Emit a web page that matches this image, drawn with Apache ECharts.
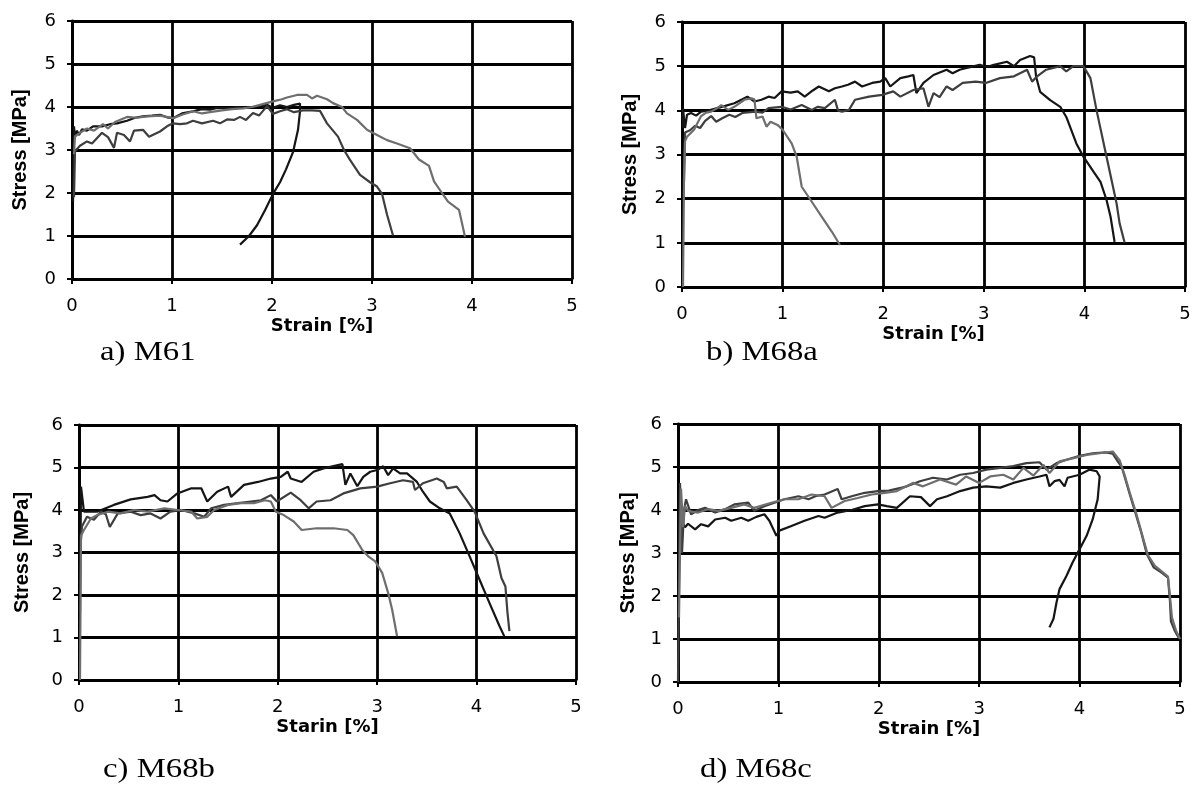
<!DOCTYPE html>
<html>
<head>
<meta charset="utf-8">
<title>Stress-strain curves</title>
<script src="https://cdn.jsdelivr.net/npm/echarts@6/dist/echarts.min.js"></script>
<style>
  html, body { margin: 0; padding: 0; background: #fff; }
  #main { width: 1196px; height: 792px; }
</style>
</head>
<body>
<div id="main"></div>
<script>
// tick labels
var strainTicks = [0, 1, 2, 3, 4, 5];
var stressTicks = [0, 1, 2, 3, 4, 5, 6];

// a) M61
var m61Black = [[0.01,1.8],[0.02,3.55],[0.03,3.3],[0.05,3.45],[0.07,3.35],[0.1,3.48],[0.15,3.45],[0.21,3.55],[0.3,3.55],[0.38,3.6],[0.45,3.62],[0.55,3.68],[0.63,3.75],[0.71,3.78],[0.8,3.8],[0.88,3.82],[0.95,3.76],[1.01,3.74],[1.1,3.85],[1.21,3.9],[1.3,3.95],[1.38,3.94],[1.45,3.98],[1.55,3.97],[1.65,4.0],[1.75,3.98],[1.88,4.02],[1.95,4.05],[2.01,3.98],[2.08,4.04],[2.15,4.0],[2.22,4.05],[2.28,4.08],[2.28,3.9],[2.26,3.47],[2.21,2.95],[2.14,2.55],[2.08,2.25],[2.01,1.98],[1.93,1.6],[1.85,1.25],[1.77,1.0],[1.68,0.8]];
var m61Dark = [[0.02,1.9],[0.03,2.97],[0.08,3.1],[0.15,3.2],[0.2,3.15],[0.3,3.4],[0.36,3.3],[0.42,3.05],[0.45,3.4],[0.52,3.35],[0.58,3.2],[0.62,3.45],[0.71,3.47],[0.77,3.31],[0.88,3.43],[0.95,3.55],[1.01,3.62],[1.08,3.6],[1.15,3.62],[1.21,3.68],[1.3,3.62],[1.41,3.68],[1.48,3.62],[1.55,3.71],[1.62,3.7],[1.68,3.77],[1.74,3.7],[1.81,3.86],[1.87,3.8],[1.95,4.02],[2.01,3.84],[2.08,3.9],[2.15,3.95],[2.22,3.88],[2.31,3.92],[2.4,3.92],[2.48,3.91],[2.55,3.62],[2.66,3.31],[2.72,3.0],[2.78,2.77],[2.88,2.42],[2.98,2.25],[3.05,2.15],[3.1,1.98],[3.15,1.5],[3.21,1.01]];
var m61Light = [[0.02,2.9],[0.03,3.32],[0.08,3.4],[0.15,3.5],[0.22,3.45],[0.31,3.6],[0.36,3.5],[0.43,3.65],[0.55,3.77],[0.65,3.75],[0.75,3.78],[0.88,3.8],[1.01,3.74],[1.1,3.82],[1.21,3.9],[1.3,3.85],[1.38,3.88],[1.5,3.92],[1.6,3.95],[1.71,3.97],[1.8,4.0],[1.88,4.05],[2.01,4.13],[2.1,4.18],[2.15,4.22],[2.25,4.28],[2.35,4.28],[2.4,4.2],[2.45,4.26],[2.5,4.22],[2.55,4.18],[2.61,4.09],[2.7,4.0],[2.75,3.85],[2.85,3.7],[2.95,3.47],[3.05,3.35],[3.15,3.23],[3.25,3.15],[3.38,3.04],[3.47,2.78],[3.57,2.63],[3.62,2.27],[3.7,2.0],[3.76,1.8],[3.87,1.61],[3.93,0.98]];

// b) M68a
var m68aBlack = [[0.01,3.6],[0.01,4.05],[0.03,3.6],[0.05,3.9],[0.09,3.94],[0.14,3.88],[0.19,3.97],[0.27,4.0],[0.35,4.05],[0.43,4.1],[0.52,4.16],[0.6,4.25],[0.65,4.31],[0.72,4.2],[0.79,4.24],[0.86,4.31],[0.92,4.28],[0.99,4.43],[1.08,4.4],[1.15,4.43],[1.22,4.31],[1.3,4.45],[1.36,4.54],[1.46,4.43],[1.52,4.5],[1.59,4.54],[1.65,4.58],[1.72,4.65],[1.79,4.54],[1.89,4.62],[1.97,4.65],[2.02,4.73],[2.07,4.54],[2.17,4.73],[2.25,4.77],[2.3,4.8],[2.33,4.39],[2.4,4.62],[2.5,4.8],[2.63,4.92],[2.69,4.84],[2.76,4.92],[2.83,4.96],[2.96,5.03],[3.03,4.98],[3.1,5.03],[3.23,5.1],[3.3,5.0],[3.36,5.14],[3.46,5.23],[3.5,5.2],[3.52,4.76],[3.56,4.42],[3.66,4.23],[3.76,4.08],[3.82,3.85],[3.92,3.25],[3.99,2.95],[4.09,2.61],[4.16,2.38],[4.22,1.97],[4.26,1.59],[4.3,1.02]];
var m68aDark = [[0.02,2.4],[0.03,3.5],[0.08,3.55],[0.13,3.65],[0.18,3.6],[0.23,3.76],[0.29,3.87],[0.34,3.74],[0.4,3.82],[0.47,3.9],[0.53,3.85],[0.6,3.94],[0.73,3.97],[0.8,3.95],[0.86,4.05],[0.99,4.08],[1.08,4.02],[1.19,4.12],[1.29,4.01],[1.35,4.08],[1.42,4.05],[1.52,4.24],[1.55,4.0],[1.59,3.97],[1.66,4.01],[1.72,4.24],[1.86,4.31],[1.99,4.35],[2.1,4.43],[2.17,4.31],[2.3,4.46],[2.4,4.5],[2.45,4.08],[2.5,4.39],[2.56,4.3],[2.63,4.54],[2.69,4.46],[2.79,4.62],[2.92,4.65],[3.02,4.62],[3.16,4.73],[3.3,4.77],[3.43,4.92],[3.48,4.65],[3.53,4.77],[3.62,4.92],[3.76,5.0],[3.82,4.88],[3.89,5.0],[3.99,5.0],[4.06,4.73],[4.12,4.01],[4.22,2.95],[4.32,1.89],[4.35,1.44],[4.4,1.0]];
var m68aLight = [[0.01,0],[0.02,2.5],[0.03,3.3],[0.05,3.4],[0.12,3.56],[0.19,3.87],[0.24,3.95],[0.29,3.97],[0.35,4.05],[0.39,4.12],[0.46,4.01],[0.52,4.08],[0.62,4.24],[0.69,4.27],[0.72,4.25],[0.74,3.82],[0.8,3.86],[0.84,3.63],[0.88,3.74],[0.95,3.67],[1.0,3.56],[1.09,3.25],[1.14,2.95],[1.19,2.27],[1.29,1.93],[1.39,1.59],[1.49,1.25],[1.57,0.95]];

// c) M68b
var m68bBlack = [[0.01,1.6],[0.02,4.55],[0.05,3.96],[0.18,3.96],[0.35,4.12],[0.52,4.25],[0.69,4.31],[0.76,4.35],[0.82,4.23],[0.89,4.2],[0.99,4.39],[1.13,4.51],[1.23,4.51],[1.29,4.2],[1.39,4.43],[1.5,4.55],[1.53,4.31],[1.66,4.59],[1.8,4.66],[1.93,4.74],[2.03,4.78],[2.1,4.9],[2.13,4.74],[2.24,4.66],[2.36,4.9],[2.46,4.98],[2.65,5.08],[2.68,4.59],[2.73,4.86],[2.8,4.56],[2.86,4.78],[2.93,4.9],[3.0,4.94],[3.06,5.03],[3.11,4.82],[3.16,4.98],[3.23,4.86],[3.3,4.86],[3.4,4.66],[3.46,4.43],[3.53,4.2],[3.63,4.04],[3.73,3.92],[3.83,3.45],[3.93,2.91],[4.03,2.36],[4.13,1.81],[4.23,1.27],[4.28,1.02]];
var m68bDark = [[0.02,3.3],[0.03,3.61],[0.08,3.84],[0.15,3.77],[0.22,3.96],[0.27,3.9],[0.31,3.6],[0.39,3.92],[0.52,3.96],[0.62,3.88],[0.72,3.92],[0.82,3.8],[0.92,3.96],[1.03,4.0],[1.16,3.92],[1.26,3.84],[1.33,4.04],[1.46,4.12],[1.6,4.16],[1.73,4.2],[1.83,4.23],[1.93,4.35],[1.99,4.2],[2.13,4.41],[2.23,4.23],[2.31,4.04],[2.39,4.2],[2.53,4.23],[2.66,4.39],[2.83,4.51],[3.0,4.55],[3.13,4.63],[3.26,4.7],[3.36,4.66],[3.38,4.47],[3.46,4.63],[3.6,4.74],[3.67,4.66],[3.7,4.51],[3.8,4.55],[3.9,4.23],[3.98,3.96],[4.07,3.45],[4.2,2.91],[4.25,2.4],[4.29,2.2],[4.31,1.6],[4.33,1.15]];
var m68bLight = [[0.01,0],[0.02,3.4],[0.05,3.53],[0.12,3.8],[0.18,3.88],[0.29,3.96],[0.42,3.92],[0.55,4.0],[0.69,3.96],[0.86,4.04],[0.99,4.0],[1.13,3.96],[1.19,3.8],[1.29,3.84],[1.36,4.0],[1.5,4.12],[1.63,4.16],[1.76,4.16],[1.87,4.23],[1.93,4.2],[1.98,3.96],[2.06,3.88],[2.16,3.73],[2.24,3.53],[2.39,3.57],[2.56,3.57],[2.7,3.53],[2.76,3.41],[2.85,3.06],[2.91,2.91],[2.98,2.79],[3.05,2.52],[3.11,2.05],[3.15,1.66],[3.2,1.03]];

// d) M68c
var m68cBlack = [[0.02,3.2],[0.03,3.75],[0.07,3.6],[0.1,3.68],[0.17,3.55],[0.23,3.67],[0.3,3.62],[0.37,3.78],[0.47,3.82],[0.53,3.75],[0.63,3.82],[0.7,3.75],[0.78,3.84],[0.86,3.9],[0.91,3.75],[0.98,3.4],[1.01,3.52],[1.13,3.63],[1.26,3.75],[1.4,3.86],[1.46,3.82],[1.59,3.94],[1.73,4.0],[1.86,4.09],[1.99,4.13],[2.08,4.09],[2.18,4.05],[2.31,4.32],[2.42,4.3],[2.51,4.09],[2.58,4.25],[2.68,4.32],[2.81,4.44],[2.94,4.52],[3.07,4.55],[3.21,4.52],[3.34,4.63],[3.47,4.71],[3.6,4.78],[3.67,4.82],[3.7,4.55],[3.75,4.67],[3.8,4.7],[3.85,4.55],[3.88,4.75],[4.0,4.82],[4.1,4.94],[4.17,4.9],[4.2,4.78],[4.18,4.25],[4.13,3.78],[4.07,3.4],[4.0,3.09],[3.93,2.78],[3.87,2.47],[3.8,2.16],[3.77,1.85],[3.74,1.47],[3.7,1.27]];
var m68cDark = [[0.0,0],[0.02,4.63],[0.04,3.0],[0.06,4.0],[0.08,4.25],[0.13,3.9],[0.2,4.0],[0.27,4.05],[0.37,3.94],[0.47,4.02],[0.56,4.13],[0.7,4.17],[0.76,3.98],[0.86,4.09],[0.96,4.17],[1.06,4.25],[1.2,4.32],[1.3,4.25],[1.38,4.33],[1.46,4.36],[1.59,4.49],[1.63,4.25],[1.73,4.32],[1.86,4.4],[1.99,4.44],[2.1,4.45],[2.23,4.52],[2.28,4.55],[2.41,4.67],[2.54,4.75],[2.68,4.71],[2.81,4.82],[2.94,4.86],[3.07,4.94],[3.21,4.98],[3.34,5.02],[3.47,5.09],[3.6,5.11],[3.67,4.94],[3.77,5.09],[3.87,5.17],[4.0,5.26],[4.13,5.32],[4.26,5.34],[4.33,5.31],[4.38,5.13],[4.42,5.0],[4.5,4.36],[4.55,3.98],[4.61,3.51],[4.67,2.97],[4.74,2.66],[4.82,2.54],[4.88,2.43],[4.9,1.88],[4.91,1.41],[4.95,1.18],[4.99,1.02]];
var m68cLight = [[0.01,1.5],[0.03,4.5],[0.05,3.6],[0.07,4.1],[0.1,3.98],[0.2,3.94],[0.3,4.02],[0.4,3.98],[0.53,4.05],[0.66,4.13],[0.76,4.05],[0.93,4.17],[1.06,4.25],[1.2,4.25],[1.33,4.36],[1.46,4.32],[1.53,4.05],[1.66,4.21],[1.79,4.28],[1.93,4.36],[2.06,4.4],[2.18,4.44],[2.34,4.63],[2.44,4.55],[2.61,4.71],[2.77,4.59],[2.87,4.78],[3.0,4.63],[3.11,4.78],[3.24,4.82],[3.34,4.71],[3.44,4.98],[3.54,4.8],[3.64,5.05],[3.7,4.86],[3.8,5.13],[3.93,5.2],[4.07,5.28],[4.2,5.32],[4.33,5.36],[4.4,5.15],[4.45,4.8],[4.5,4.4],[4.56,3.95],[4.62,3.45],[4.68,2.95],[4.75,2.7],[4.83,2.55],[4.88,2.45],[4.9,2.0],[4.92,1.5],[4.96,1.2],[5.0,1.0]];

var panels = [
  { caption: 'a) M61',  xName: 'Strain [%]', yGap: 42, grid: { left: 72,  top: 21,  width: 500, height: 258 }, capPos: [100, 339], lines: [m61Black, m61Dark, m61Light] },
  { caption: 'b) M68a', xName: 'Strain [%]', yGap: 42, grid: { left: 682, top: 22,  width: 503, height: 265 }, capPos: [706, 339], lines: [m68aBlack, m68aDark, m68aLight] },
  { caption: 'c) M68b', xName: 'Starin [%]', yGap: 47, grid: { left: 79,  top: 425, width: 497, height: 255 }, capPos: [103, 756], lines: [m68bBlack, m68bDark, m68bLight] },
  { caption: 'd) M68c', xName: 'Strain [%]', yGap: 40, grid: { left: 678, top: 424, width: 502, height: 258 }, capPos: [700, 756], lines: [m68cBlack, m68cDark, m68cLight] }
];
var lineColors = ['#151515', '#3e3e3e', '#6e6e6e'];

var grids = [], xAxes = [], yAxes = [], series = [], captions = [];
var wideFont = '"DejaVu Sans", Verdana, sans-serif';
var plainFont = 'Arial, "Liberation Sans", sans-serif';

panels.forEach(function (p, i) {
  grids.push(p.grid);
  xAxes.push({
    gridIndex: i, type: 'value',
    min: strainTicks[0], max: strainTicks[strainTicks.length - 1], interval: 1,
    name: p.xName, nameLocation: 'middle', nameGap: 38,
    nameTextStyle: { fontFamily: wideFont, fontWeight: 'bold', fontSize: 18, color: '#000' },
    axisLine: { lineStyle: { color: '#000', width: 2.8 } },
    axisTick: { show: true, length: 5, lineStyle: { color: '#000', width: 2 } },
    axisLabel: { margin: 18, fontFamily: wideFont, fontSize: 18, color: '#000' },
    splitLine: { show: true, lineStyle: { color: '#000', width: 2.8 } }
  });
  yAxes.push({
    gridIndex: i, type: 'value',
    min: stressTicks[0], max: stressTicks[stressTicks.length - 1], interval: 1,
    name: 'Stress [MPa]', nameLocation: 'middle', nameGap: p.yGap,
    nameTextStyle: { fontFamily: plainFont, fontWeight: 'bold', fontSize: 20, color: '#000' },
    axisLine: { show: true, lineStyle: { color: '#000', width: 2.8 } },
    axisTick: { show: true, length: 5, lineStyle: { color: '#000', width: 2 } },
    axisLabel: { margin: 16, fontFamily: wideFont, fontSize: 18, color: '#000' },
    splitLine: { show: true, lineStyle: { color: '#000', width: 2.8 } }
  });
  p.lines.forEach(function (d, k) {
    series.push({
      type: 'line', xAxisIndex: i, yAxisIndex: i,
      data: d, showSymbol: false, animation: false,
      lineStyle: { color: lineColors[k], width: 2.2 }
    });
  });
  // caption under each panel, a little stretched like the scanned figure
  captions.push({
    type: 'text', x: p.capPos[0], y: p.capPos[1], scaleX: 1.17,
    style: { text: p.caption, font: '28px "Liberation Serif", "Times New Roman", serif', fill: '#000' }
  });
});

var myCharts = echarts.init(document.getElementById('main'));
myCharts.setOption({
  backgroundColor: '#fff',
  animation: false,
  grid: grids,
  xAxis: xAxes,
  yAxis: yAxes,
  series: series,
  graphic: captions
});
</script>
</body>
</html>
